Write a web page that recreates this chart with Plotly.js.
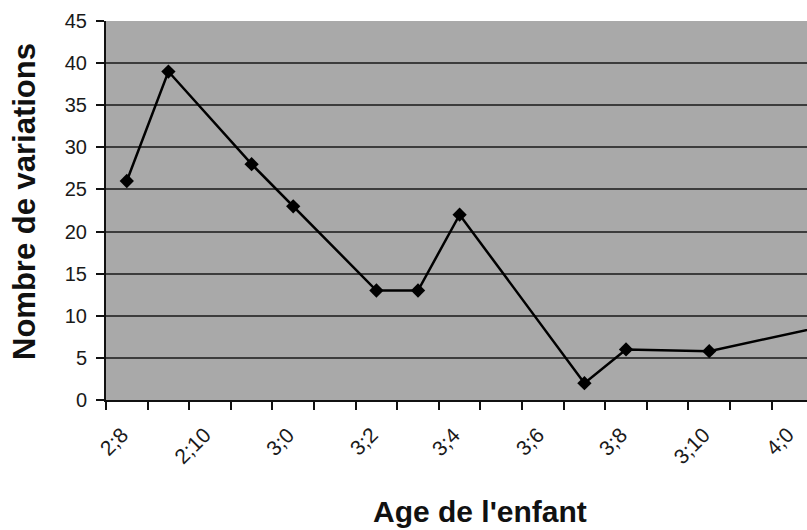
<!DOCTYPE html>
<html>
<head>
<meta charset="utf-8">
<script src="https://cdn.plot.ly/plotly-3.0.1.min.js"></script>
<style>html,body{margin:0;padding:0;background:#fff;}#chart{width:807px;height:530px;}</style>
</head>
<body>
<div id="chart"></div>
<script>
// Age of child in months (2;8 = 32 months) and number of variations
const ageMonths = [32, 33, 35, 36, 38, 39, 40, 43, 44, 46, 49];
const variations = [26, 39, 28, 23, 13, 13, 22, 2, 6, 5.8, 9];
const tickMonths = [32, 34, 36, 38, 40, 42, 44, 46, 48];
const tickLabels = ['2;8', '2;10', '3;0', '3;2', '3;4', '3;6', '3;8', '3;10', '4;0'];
const yTicks = [0, 5, 10, 15, 20, 25, 30, 35, 40, 45];

const xRange = [31.5, 48.35];
// tick marks sit on month boundaries
const tickPos = [];
for (let m = 31.5; m <= 49; m += 1) tickPos.push(m);

const trace = {
  x: ageMonths,
  y: variations,
  type: 'scatter',
  mode: 'lines+markers',
  line: {color: '#000', width: 2.5},
  marker: {symbol: 'diamond', size: 11, color: '#000'},
  hoverinfo: 'skip'
};

const labelFont = {family: 'Liberation Sans, Arial, sans-serif', size: 21, color: '#1a1a1a'};
// month-centred category labels, placed through the x axis scale
const tickAnnotations = tickMonths.map((m, i) => ({
  text: tickLabels[i], x: m, xref: 'x', y: 0, yref: 'paper',
  xanchor: 'right', yanchor: 'top', xshift: 8, yshift: -20,
  textangle: -45, showarrow: false, font: labelFont
}));

const layout = {
  width: 807, height: 530,
  margin: {l: 106, r: 0, t: 21, b: 130, pad: 0},
  paper_bgcolor: '#fff',
  plot_bgcolor: '#a9a9a9',
  showlegend: false,
  font: {family: 'Liberation Sans, Arial, sans-serif', color: '#222'},
  xaxis: {
    range: xRange,
    tickmode: 'array', tickvals: tickPos,
    showticklabels: false,
    ticks: 'outside', ticklen: 8, tickwidth: 2, tickcolor: '#111',
    showgrid: false, zeroline: false,
    showline: true, linecolor: '#111', linewidth: 2
  },
  yaxis: {
    range: [0, 45],
    tickmode: 'array', tickvals: yTicks,
    ticks: 'outside', ticklen: 8, tickwidth: 2, tickcolor: '#111',
    showgrid: true, gridcolor: '#3c3c3c', gridwidth: 2,
    zeroline: false,
    showline: true, linecolor: '#111', linewidth: 2,
    ticklabelstandoff: 5,
    tickfont: {family: 'Liberation Sans, Arial, sans-serif', size: 20, color: '#1a1a1a'}
  },
  annotations: tickAnnotations.concat([
    {text: "<b>Age de l'enfant</b>", xref: 'paper', yref: 'paper', x: 0.533, y: -0.295,
     xanchor: 'center', yanchor: 'middle', showarrow: false,
     font: {family: 'Liberation Sans, Arial, sans-serif', size: 30, color: '#111'}},
    {text: '<b>Nombre de variations</b>', xref: 'paper', yref: 'paper', x: -0.117, y: 0.525,
     xanchor: 'center', yanchor: 'middle', showarrow: false, textangle: -90,
     font: {family: 'Liberation Sans, Arial, sans-serif', size: 31, color: '#111'}}
  ])
};

Plotly.newPlot('chart', [trace], layout, {staticPlot: true, displayModeBar: false});
</script>
</body>
</html>
